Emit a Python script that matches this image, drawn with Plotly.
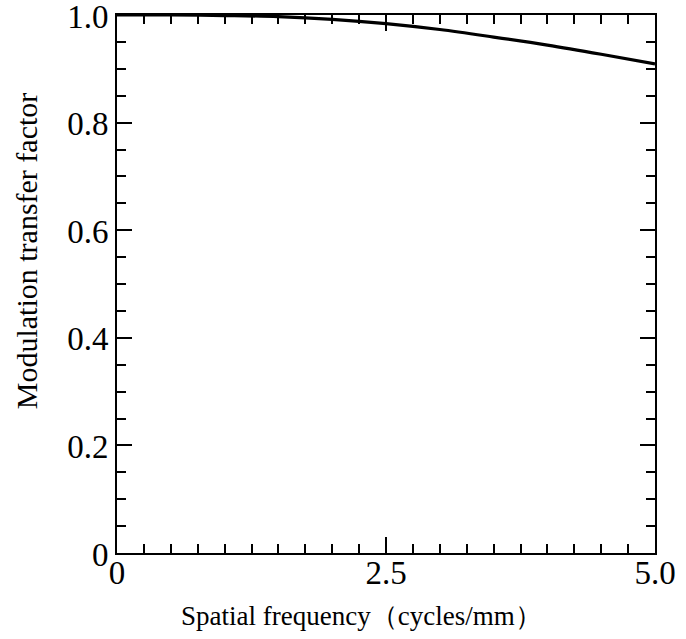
import plotly.graph_objects as go

freq = [0, 0.5, 1.0, 1.5, 2.0, 2.5, 3.0, 3.5, 4.0, 4.5, 5.0]
mtf = [1.0, 1.0, 0.999, 0.997, 0.992, 0.984, 0.973, 0.959, 0.944, 0.927, 0.909]

x_tickvals = [0, 2.5, 5.0]
x_ticktext = ["0", "2.5", "5.0"]
y_tickvals = [0, 0.2, 0.4, 0.6, 0.8, 1.0]
y_ticktext = ["0", "0.2", "0.4", "0.6", "0.8", "1.0"]

x_title = "Spatial frequency（cycles/mm）"
y_title = "Modulation transfer factor"

font = "Liberation Serif, Times New Roman, serif"

fig = go.Figure()
fig.add_trace(go.Scatter(x=freq, y=mtf, mode="lines",
                         line=dict(color="black", width=3.2, shape="spline"),
                         showlegend=False, hoverinfo="skip"))

fig.update_layout(
    width=686, height=639,
    margin=dict(l=117, r=31, t=15, b=86),
    paper_bgcolor="white", plot_bgcolor="white",
    font=dict(family=font, color="black"),
)
fig.update_xaxes(
    range=[0, 5.0], tickvals=x_tickvals, ticktext=x_ticktext,
    ticks="inside", ticklen=16, tickwidth=2, tickcolor="black",
    minor=dict(dtick=0.25, ticks="inside", ticklen=9, tickwidth=1.5, tickcolor="black"),
    showline=True, linewidth=2, linecolor="black", mirror="allticks",
    showgrid=False, zeroline=False, automargin=False,
    ticklabeloverflow="allow", ticklabelstandoff=-11,
    tickfont=dict(size=33, family=font),
)
fig.update_yaxes(
    range=[0, 1.0], tickvals=y_tickvals, ticktext=y_ticktext,
    ticks="inside", ticklen=15, tickwidth=2, tickcolor="black",
    minor=dict(dtick=0.05, ticks="inside", ticklen=9, tickwidth=1.5, tickcolor="black"),
    showline=True, linewidth=2, linecolor="black", mirror="allticks",
    showgrid=False, zeroline=False, automargin=False,
    ticklabeloverflow="allow", ticklabelshift=1,
    tickfont=dict(size=33, family=font),
)
fig.add_annotation(text=x_title, xref="paper", yref="paper", x=0.455, y=-0.117,
                   xanchor="center", yanchor="middle", showarrow=False,
                   font=dict(size=27, family=font, color="black"))
fig.add_annotation(text=y_title, xref="paper", yref="paper", x=-0.169, y=0.561,
                   xanchor="center", yanchor="middle", textangle=-90, showarrow=False,
                   font=dict(size=30, family=font, color="black"))

fig.write_html("out.html", config={"displayModeBar": False},
               post_script="document.body.style.margin='0';")
